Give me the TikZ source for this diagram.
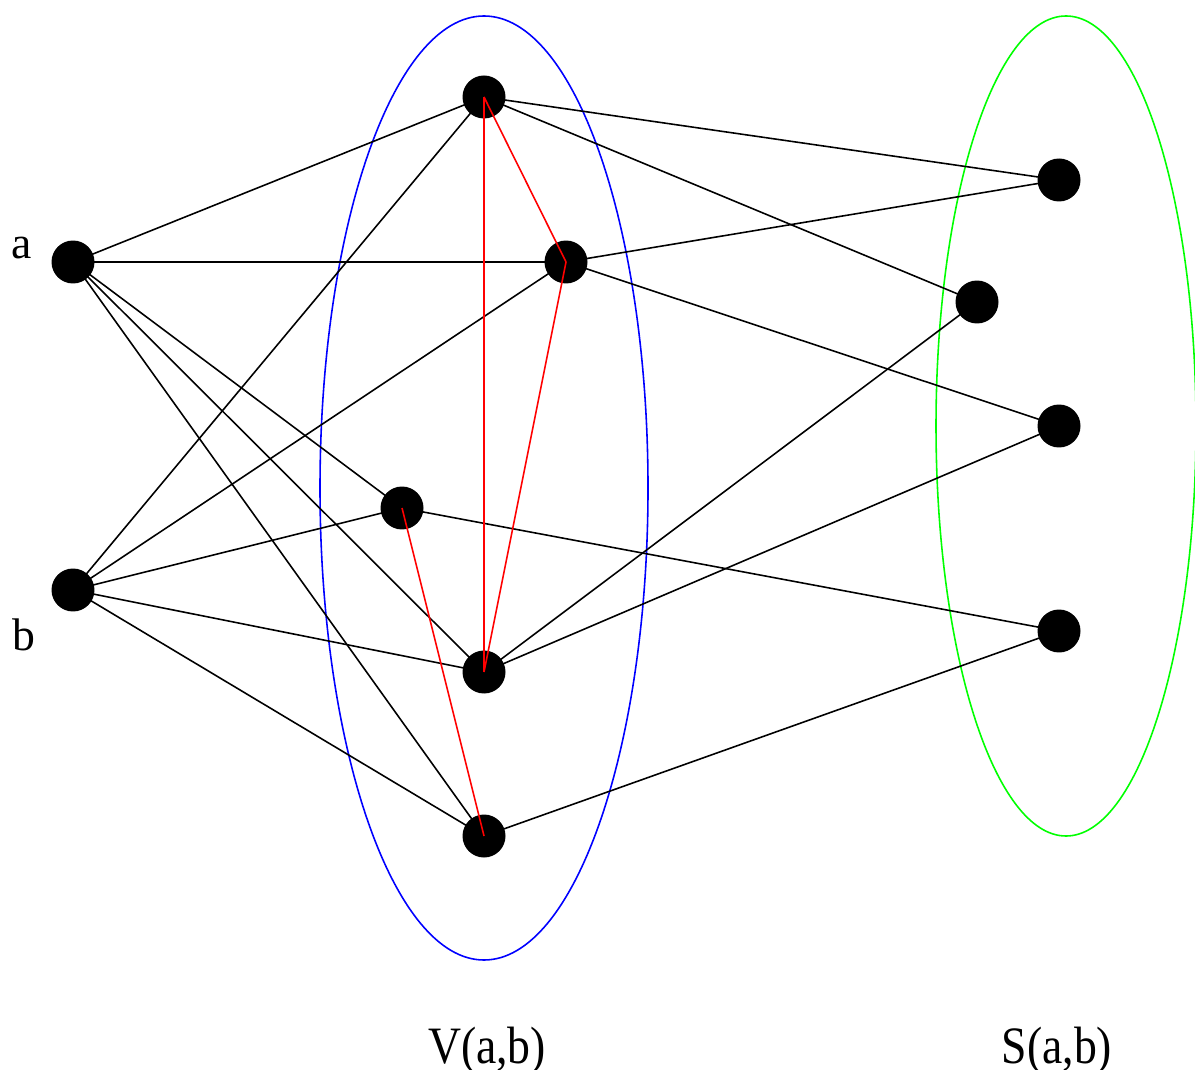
\documentclass[tikz,border=0pt]{standalone}
\usepackage{fontspec}
\setmainfont{Liberation Serif}
\begin{document}
\begin{tikzpicture}[x=0.02cm,y=-0.02cm,
  vtx/.style={circle,fill=black,inner sep=0pt,minimum size=0.86cm},
  edge/.style={line width=0.9pt,black},
  redge/.style={line width=0.9pt,red},
  lbl/.style={font=\fontsize{26}{30}\selectfont,anchor=base},
  biglbl/.style={font=\fontsize{26}{30}\selectfont,anchor=base,yscale=1.15}]
\useasboundingbox (0,0) rectangle (1195,1070);
\begin{scope}
\clip (0,0) rectangle (1195,1070);
\draw[blue,line width=0.9pt] (484,488) ellipse [x radius=164, y radius=472];
\draw[green,line width=0.9pt] (1066,426) ellipse [x radius=130, y radius=410];
\end{scope}
% vertices
\node[vtx] (a) at (73,262) {};
\node[vtx] (b) at (73,590) {};
\node[vtx] (v1) at (484,97) {};
\node[vtx] (v2) at (566,262) {};
\node[vtx] (v3) at (402,508) {};
\node[vtx] (v4) at (484,672) {};
\node[vtx] (v5) at (484,836) {};
\node[vtx] (s1) at (1059,180) {};
\node[vtx] (s2) at (977,302) {};
\node[vtx] (s3) at (1059,426) {};
\node[vtx] (s4) at (1059,631) {};
% black edges
\foreach \v in {v1,v2,v3,v4,v5} {
  \draw[edge] (a.center) -- (\v.center);
  \draw[edge] (b.center) -- (\v.center);
}
\draw[edge] (v1.center) -- (s1.center);
\draw[edge] (v1.center) -- (s2.center);
\draw[edge] (v2.center) -- (s1.center);
\draw[edge] (v2.center) -- (s3.center);
\draw[edge] (v3.center) -- (s4.center);
\draw[edge] (v4.center) -- (s2.center);
\draw[edge] (v4.center) -- (s3.center);
\draw[edge] (v5.center) -- (s4.center);
% red edges
\draw[redge] (v1.center) -- (v2.center);
\draw[redge] (v1.center) -- (v4.center);
\draw[redge] (v2.center) -- (v4.center);
\draw[redge] (v3.center) -- (v5.center);
% labels
\node[lbl] (la) at (22,259) {a};
\node[lbl] (lb) at (24,650) {b};
\node[biglbl] (lv) at (487,1063) {V(a,b)};
\node[biglbl] (ls) at (1057,1063) {S(a,b)};
\end{tikzpicture}
\end{document}
